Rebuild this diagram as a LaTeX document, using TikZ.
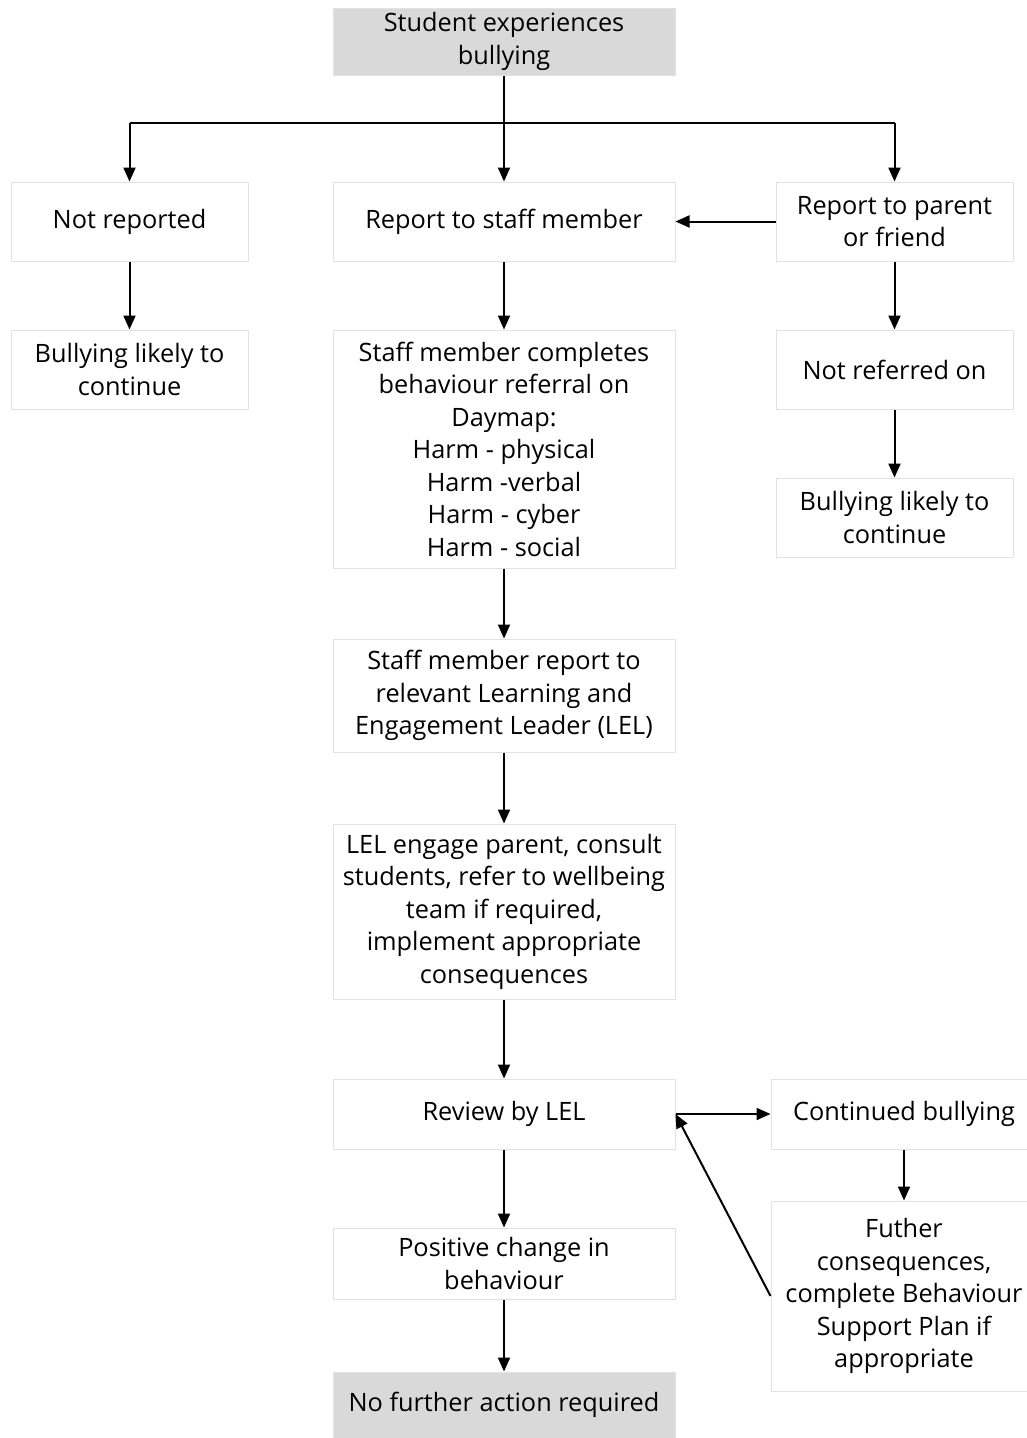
\documentclass[tikz,border=0pt]{standalone}
\usepackage{fontspec}
\setmainfont{Open Sans}
\usetikzlibrary{arrows.meta}
\definecolor{boxline}{HTML}{E2E2E2}
\definecolor{boxgray}{HTML}{D9D9D9}
\tikzset{
  box/.style={draw=boxline, line width=1pt, fill=white, align=center, inner sep=0pt,
    font=\fontsize{25.3}{32.5}\selectfont, text=black},
  graybox/.style={box, fill=boxgray},
  arr/.style={line width=2pt, -{Triangle[length=14pt,width=12pt]}},
  ln/.style={line width=2pt}
}
\begin{document}
\begin{tikzpicture}[x=1pt,y=-1pt]
\useasboundingbox[fill=white] (0,0) rectangle (1026,1438);
\node[graybox, minimum width=342pt, minimum height=67pt] (start) at (504,41.5) {Student experiences\\bullying};
\node[box, minimum width=237pt, minimum height=79pt] (notrep) at (129.5,221.5) {Not reported};
\node[box, minimum width=342pt, minimum height=79pt] (staff) at (504,221.5) {Report to staff member};
\node[box, minimum width=237pt, minimum height=79pt] (parent) at (894.5,221.5) {Report to parent\\or friend};
\node[box, minimum width=237pt, minimum height=79pt] (bl1) at (129.5,369.5) {Bullying likely to\\continue};
\node[box, minimum width=237pt, minimum height=79pt] (notref) at (894.5,369.5) {Not referred on};
\node[box, minimum width=237pt, minimum height=79pt] (bl2) at (894.5,517.5) {Bullying likely to\\continue};
\node[box, minimum width=342pt, minimum height=238pt] (completes) at (504,449) {Staff member completes\\behaviour referral on\\Daymap:\\Harm - physical\\Harm -verbal\\Harm - cyber\\Harm - social};
\node[box, minimum width=342pt, minimum height=113pt] (report) at (504,695.5) {Staff member report to\\relevant Learning and\\Engagement Leader (LEL)};
\node[box, minimum width=342pt, minimum height=175pt] (lel) at (504,911.5) {LEL engage parent, consult\\students, refer to wellbeing\\team if required,\\implement appropriate\\consequences};
\node[box, minimum width=342pt, minimum height=70pt] (review) at (504,1114) {Review by LEL};
\node[box, minimum width=266pt, minimum height=70pt] (cont) at (904,1114) {Continued bullying};
\node[box, minimum width=266pt, minimum height=190pt] (further) at (904,1296) {Futher\\consequences,\\complete Behaviour\\Support Plan if\\appropriate};
\node[box, minimum width=342pt, minimum height=71pt] (positive) at (504,1263.5) {Positive change in\\behaviour};
\node[graybox, minimum width=342pt, minimum height=66pt] (nofurther) at (504,1405) {No further action required};

\coordinate (bl) at (129.5,123);
\coordinate (br) at (894.5,123);
\draw[ln] (bl) -- (br);
\draw[arr] (start) -- (staff);
\draw[arr] (bl) -- (notrep);
\draw[arr] (br) -- (parent);
\draw[arr] (parent) -- (staff);
\draw[arr] (notrep) -- (bl1);
\draw[arr] (parent) -- (notref);
\draw[arr] (notref) -- (bl2);
\draw[arr] (staff) -- (completes);
\draw[arr] (completes) -- (report);
\draw[arr] (report) -- (lel);
\draw[arr] (lel) -- (review);
\draw[arr] (review) -- (positive);
\draw[arr] (positive) -- (nofurther);
\draw[arr] (review.east) -- (cont.west);
\draw[arr] (cont) -- (further);
\draw[arr] (further.west) -- (review.east);
\end{tikzpicture}
\end{document}
